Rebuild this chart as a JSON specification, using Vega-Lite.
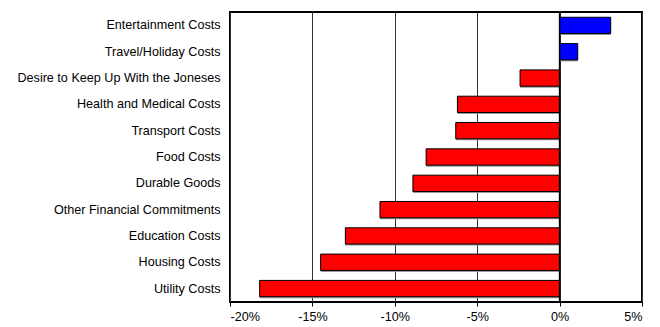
{
  "$schema": "https://vega.github.io/schema/vega-lite/v6.json",
  "width": 412,
  "height": 290,
  "autosize": "none",
  "padding": {"left": 230, "top": 12, "right": 18, "bottom": 25},
  "config": {
    "view": {"stroke": "#000000", "strokeWidth": 2},
    "font": "Liberation Sans",
    "axis": {"labelFont": "Liberation Sans", "labelColor": "#000000"}
  },
  "data": {
    "values": [
      {"category": "Entertainment Costs", "change": 3.1},
      {"category": "Travel/Holiday Costs", "change": 1.1},
      {"category": "Desire to Keep Up With the Joneses", "change": -2.4},
      {"category": "Health and Medical Costs", "change": -6.2},
      {"category": "Transport Costs", "change": -6.3},
      {"category": "Food Costs", "change": -8.1},
      {"category": "Durable Goods", "change": -8.9},
      {"category": "Other Financial Commitments", "change": -10.9},
      {"category": "Education Costs", "change": -13.0},
      {"category": "Housing Costs", "change": -14.5},
      {"category": "Utility Costs", "change": -18.2}
    ]
  },
  "encoding": {
    "y": {
      "field": "category",
      "type": "nominal",
      "sort": null,
      "scale": {"paddingInner": 0.38, "paddingOuter": 0.2},
      "axis": {"title": null, "ticks": false, "domain": false, "labelPadding": 10, "labelFontSize": 12.6, "labelLimit": 400}
    },
    "x": {
      "field": "change",
      "type": "quantitative",
      "scale": {"domain": [-20, 5], "nice": false},
      "axis": {
        "title": null,
        "values": [-20, -15, -10, -5, 0, 5],
        "labelExpr": "datum.value + '%'",
        "grid": true,
        "gridColor": "#333333",
        "gridWidth": 1,
        "gridOpacity": 1,
        "domain": false,
        "ticks": true,
        "tickColor": "#000000",
        "tickSize": 4,
        "labelPadding": 4,
        "labelFontSize": 12.6
      }
    }
  },
  "layer": [
    {
      "mark": {"type": "bar", "color": "#999999", "yOffset": 1.5},
      "encoding": {}
    },
    {
      "mark": {"type": "bar", "stroke": "#000000", "strokeWidth": 1},
      "encoding": {
        "color": {
          "condition": {"test": "datum.change > 0", "value": "#0000FF"},
          "value": "#FF0000"
        }
      }
    },
    {
      "mark": {"type": "rule", "color": "#000000", "strokeWidth": 1.5},
      "data": {"values": [{"zero": 0}]},
      "encoding": {"x": {"field": "zero", "type": "quantitative"}, "y": null}
    }
  ]
}
